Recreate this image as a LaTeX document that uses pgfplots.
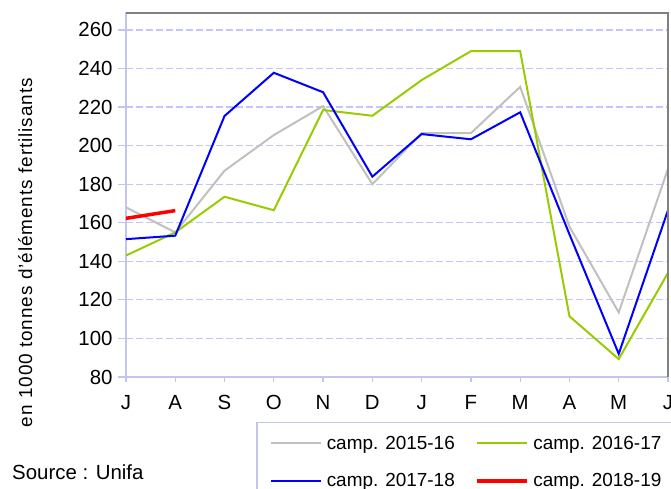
\documentclass[border=0pt]{standalone}
\usepackage{pgfplots}
\pgfplotsset{compat=1.18}
\usepackage{fontspec}
\setmainfont{Liberation Sans}
\definecolor{lav}{RGB}{196,196,240}
\definecolor{gridc}{RGB}{196,196,255}
\definecolor{cgray}{RGB}{192,192,192}
\definecolor{cgreen}{RGB}{153,204,0}
\definecolor{frame}{RGB}{128,128,128}
\newcommand{\fs}{\fontsize{20.5}{24}\selectfont}
\newcommand{\fl}{\fontsize{19}{22}\selectfont}
\begin{document}
\begin{tikzpicture}[x=1bp,y=1bp]
\begin{axis}[
  at={(126bp,-377bp)}, anchor=south west,
  scale only axis, width=542bp, height=364bp,
  xmin=0, xmax=11, ymin=80, ymax=268.8,
  xtick={0,...,11},
  xticklabels={J,A,S,O,N,D,J,F,M,A,M,J},
  ytick={80,100,...,260},
  tick pos=left, tick align=outside,
  major tick length=8bp,
  xtick style={lav, line width=1.2bp, /pgfplots/major tick length=5bp},
  ytick style={lav, line width=1.2bp},
  tick label style={font=\fs},
  /pgf/number format/assume math mode=true,
  yticklabel style={xshift=-2bp},
  xticklabel style={yshift=-7bp},
  axis line style={lav, line width=1.8bp},
  ymajorgrids, grid style={gridc, line width=1.2bp, dash pattern=on 7bp off 3bp},
  after end axis/.code={\draw[frame, line width=1.2bp] (rel axis cs:0,1) -- (rel axis cs:1,1) -- (rel axis cs:1,0);},
  clip=false,
  legend columns=2,
  legend image code/.code={\draw (0bp,0bp) -- (50bp,0bp);},
  legend style={at={(axis description cs:0.2399,-0.1228)}, anchor=north west,
    draw=lav, line width=1.5bp, font=\fl, legend cell align=left,
    inner xsep=13bp, inner ysep=13.5bp, nodes={inner sep=0pt, line width=0.4pt},
    row sep=23bp,
    /tikz/every odd column/.append style={column sep=5bp},
    /tikz/every even column/.append style={column sep=20bp}},
]
\addplot[cgray, line width=2bp] coordinates {(0,168) (1,155) (2,187) (3,205.5) (4,220.5) (5,180) (6,206.5) (7,206.5) (8,230.5) (9,158) (10,113.5) (11,188)};
\addlegendentry{camp. 2015-16}
\addplot[cgreen, line width=2bp] coordinates {(0,143) (1,155) (2,173.5) (3,166.5) (4,218.5) (5,215.5) (6,234) (7,249) (8,249) (9,111.5) (10,89.3) (11,134)};
\addlegendentry{camp. 2016-17}
\addplot[blue, line width=2bp] coordinates {(0,151.5) (1,153.3) (2,215.4) (3,237.8) (4,227.7) (5,183.9) (6,206) (7,203.3) (8,217.3) (9,154) (10,92) (11,166.5)};
\addlegendentry{camp. 2017-18}
\addplot[red, line width=3.5bp] coordinates {(0,162.3) (1,166.3)};
\addlegendentry{camp. 2018-19}
\end{axis}
\node[rotate=90, anchor=base, font=\fontsize{19}{22}\selectfont\addfontfeatures{LetterSpace=5}, inner sep=0pt] at (32bp,-252.5bp) {en 1000 tonnes d'éléments fertilisants};
\node[anchor=base west, inner sep=0pt, font=\fontsize{20.5}{24}\selectfont] at (12bp,-479bp) {Source : Unifa};
\pgfresetboundingbox
\useasboundingbox (0,0) rectangle (671bp,-489bp);
\end{tikzpicture}
\end{document}
